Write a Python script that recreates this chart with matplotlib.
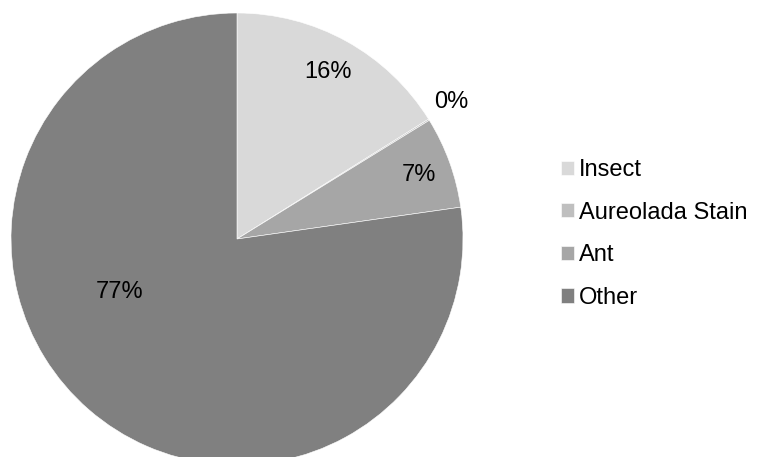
import matplotlib.pyplot as plt
import numpy as np

plt.rcParams['font.family'] = ['Liberation Sans', 'DejaVu Sans']

categories = ["Insect", "Aureolada Stain", "Ant", "Other"]
values = [16.1, 0.1, 6.55, 77.25]
colors = ["#d9d9d9", "#bfbfbf", "#a6a6a6", "#808080"]

# pixel geometry of the pie in the 759x457 figure
W, H = 759, 457
cx, cy, r = 237, 239, 226

fig = plt.figure(figsize=(W / 100, H / 100), dpi=100)
ax = fig.add_axes([0, 0, 1, 1])

wedges, _ = ax.pie(values, colors=colors, startangle=90, counterclock=False,
                   radius=1.0, wedgeprops=dict(edgecolor="white", linewidth=0.4))
ax.set_aspect("auto")
ax.set_xlim(-cx / r, (W - cx) / r)
ax.set_ylim(-(H - cy) / r, cy / r)
ax.axis("off")

# label radius/angle overrides (Excel-style placement)
label_r = [0.84, 1.125, 0.854, 0.569]
label_ang = [61.4, 32.6, 19.4, 204.4]
for v, lr, la in zip(values, label_r, label_ang):
    a = np.deg2rad(la)
    ax.text(lr * np.cos(a), lr * np.sin(a), f"{v:.0f}%", ha="center", va="center",
            fontsize=17, color="black")

leg = fig.legend(wedges, categories, loc="center left", bbox_to_anchor=(561 / W, 1 - 234 / H),
                 frameon=False, fontsize=17, handlelength=0.55, handleheight=0.55,
                 handletextpad=0.2, labelspacing=0.87, borderpad=0, borderaxespad=0)

fig.savefig("out.png", dpi=100)
